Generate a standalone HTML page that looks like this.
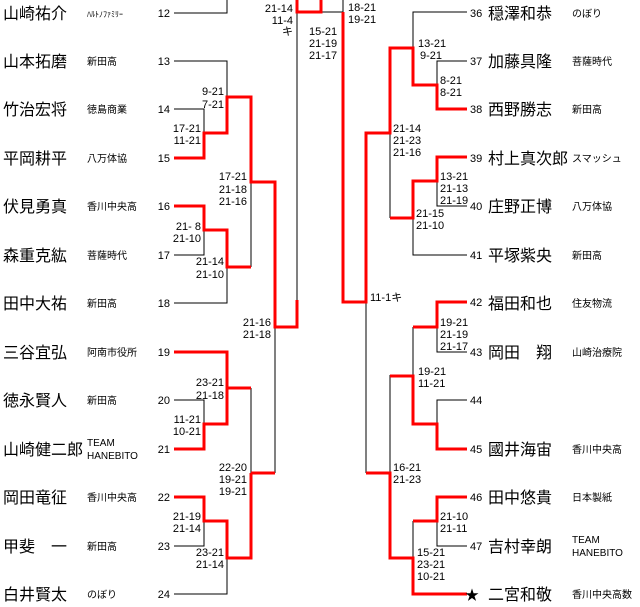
<!DOCTYPE html>
<html><head><meta charset="utf-8"><style>
html,body{margin:0;padding:0;background:#fff;}
svg{display:block;}
.n{font-family:"Liberation Sans","Noto Sans CJK JP",sans-serif;font-size:16px;fill:#000;}
.t{font-family:"Liberation Sans","Noto Sans CJK JP",sans-serif;font-size:10px;fill:#000;}
.s{font-family:"Liberation Sans",sans-serif;font-size:11px;fill:#000;}
.r{text-anchor:end;}
</style></head><body>
<svg width="640" height="607" xmlns="http://www.w3.org/2000/svg">
<g fill="none" stroke="#000" stroke-width="1">
<!-- left black -->
<path d="M174 13H227V0 M174 61H227V97 M174 109H204V133 M174 255H204V230 M227 267V303H174 M251 182V267 M174 400H204V424 M251 388V473 M275 327V473 M174 546H204V521 M227 558V594H174 M297 12V300 M321 12H343V0"/>
<!-- right black -->
<path d="M413 85V12H467 M437 85V61H467 M390 133V218 M437 181V206H467 M413 218V255H467 M366 300V473 M390 375V473 M413 327V376 M437 424V400H467 M437 327V352H467 M413 521V558 M437 521V546H467"/>
</g>
<g fill="none" stroke="#f00" stroke-width="3">
<path d="M297 0V12H321V0"/>
<path d="M174 158H204V133H227V97H251V182H275V327H297V300"/>
<path d="M174 206H204V230H227V267H251"/>
<path d="M174 352H227V388H251 M174 449H204V424H227V388"/>
<path d="M251 473H275 M174 497H204V521H227V558H251V473"/>
<path d="M343 12V302H366V133H390V48H413V85H437V109H467"/>
<path d="M467 157H437V181H413V218H390"/>
<path d="M467 302H437V327H413 M390 376H413V424H437V449H467"/>
<path d="M366 473H390V558H413V594H467 M413 521H437V497H467"/>
</g>
<g class="n">
<text x="3" y="19">山崎祐介</text><text x="3" y="67">山本拓磨</text><text x="3" y="115">竹治宏将</text><text x="3" y="164">平岡耕平</text><text x="3" y="212">伏見勇真</text><text x="3" y="261">森重克紘</text><text x="3" y="309">田中大祐</text><text x="3" y="358">三谷宜弘</text><text x="3" y="406">徳永賢人</text><text x="3" y="455">山崎健二郎</text><text x="3" y="503">岡田竜征</text><text x="3" y="552">甲斐　一</text><text x="3" y="600">白井賢太</text>
<text x="488" y="19">穏澤和恭</text><text x="488" y="67">加藤具隆</text><text x="488" y="115">西野勝志</text><text x="488" y="164">村上真次郎</text><text x="488" y="212">庄野正博</text><text x="488" y="261">平塚紫央</text><text x="488" y="309">福田和也</text><text x="488" y="358">岡田　翔</text><text x="488" y="455">國井海宙</text><text x="488" y="503">田中悠貴</text><text x="488" y="552">吉村幸朗</text><text x="488" y="600">二宮和敬</text>
<text x="465" y="600" font-size="14">★</text>
</g>
<g class="t">
<text x="87" y="17" font-size="8">ﾊﾙﾄﾉﾌｧﾐﾘｰ</text><text x="87" y="65">新田高</text><text x="87" y="113">徳島商業</text><text x="87" y="162">八万体協</text><text x="87" y="210">香川中央高</text><text x="87" y="259">菩薩時代</text><text x="87" y="307">新田高</text><text x="87" y="356">阿南市役所</text><text x="87" y="404">新田高</text><text x="87" y="446">TEAM</text><text x="87" y="459">HANEBITO</text><text x="87" y="501">香川中央高</text><text x="87" y="550">新田高</text><text x="87" y="598">のぼり</text>
<text x="572" y="17">のぼり</text><text x="572" y="65">菩薩時代</text><text x="572" y="113">新田高</text><text x="572" y="162">スマッシュ</text><text x="572" y="210">八万体協</text><text x="572" y="259">新田高</text><text x="572" y="307">住友物流</text><text x="572" y="356">山崎治療院</text><text x="572" y="453">香川中央高</text><text x="572" y="501">日本製紙</text><text x="572" y="543">TEAM</text><text x="572" y="556">HANEBITO</text><text x="572" y="598">香川中央高数</text>
</g>
<g class="s">
<g class="r">
<text x="170" y="17">12</text><text x="170" y="65">13</text><text x="170" y="113">14</text><text x="170" y="162">15</text><text x="170" y="210">16</text><text x="170" y="259">17</text><text x="170" y="307">18</text><text x="170" y="356">19</text><text x="170" y="404">20</text><text x="170" y="453">21</text><text x="170" y="501">22</text><text x="170" y="550">23</text><text x="170" y="598">24</text>
<text x="293" y="12">21-14</text><text x="293" y="24">11-4</text><text x="293" y="35">キ</text>
<text x="224" y="95">9-21</text><text x="224" y="108">7-21</text>
<text x="201" y="132">17-21</text><text x="201" y="144">11-21</text>
<text x="247" y="180">17-21</text><text x="247" y="193">21-18</text><text x="247" y="205">21-16</text>
<text x="201" y="230">21- 8</text><text x="201" y="242">21-10</text>
<text x="224" y="265">21-14</text><text x="224" y="278">21-10</text>
<text x="271" y="326">21-16</text><text x="271" y="338">21-18</text>
<text x="224" y="386">23-21</text><text x="224" y="399">21-18</text>
<text x="201" y="423">11-21</text><text x="201" y="435">10-21</text>
<text x="247" y="471">22-20</text><text x="247" y="483">19-21</text><text x="247" y="495">19-21</text>
<text x="201" y="520">21-19</text><text x="201" y="532">21-14</text>
<text x="224" y="556">23-21</text><text x="224" y="568">21-14</text>
</g>
<text x="309" y="35">15-21</text><text x="309" y="47">21-19</text><text x="309" y="59">21-17</text>
<text x="348" y="11">18-21</text><text x="348" y="23">19-21</text>
<text x="418" y="47">13-21</text><text x="420" y="59">9-21</text>
<text x="440" y="84">8-21</text><text x="440" y="96">8-21</text>
<text x="393" y="132">21-14</text><text x="393" y="144">21-23</text><text x="393" y="156">21-16</text>
<text x="440" y="180">13-21</text><text x="440" y="192">21-13</text><text x="440" y="204">21-19</text>
<text x="416" y="217">21-15</text><text x="416" y="229">21-10</text>
<text x="370" y="301">11-1キ</text>
<text x="440" y="326">19-21</text><text x="440" y="338">21-19</text><text x="440" y="350">21-17</text>
<text x="418" y="375">19-21</text><text x="418" y="387">11-21</text>
<text x="393" y="471">16-21</text><text x="393" y="483">21-23</text>
<text x="440" y="520">21-10</text><text x="440" y="532">21-11</text>
<text x="417" y="556">15-21</text><text x="417" y="568">23-21</text><text x="417" y="580">10-21</text>
<text x="470" y="17">36</text><text x="470" y="65">37</text><text x="470" y="113">38</text><text x="470" y="162">39</text><text x="470" y="210">40</text><text x="470" y="259">41</text><text x="470" y="306">42</text><text x="470" y="356">43</text><text x="470" y="404">44</text><text x="470" y="453">45</text><text x="470" y="501">46</text><text x="470" y="550">47</text>
</g>
</svg>
</body></html>
